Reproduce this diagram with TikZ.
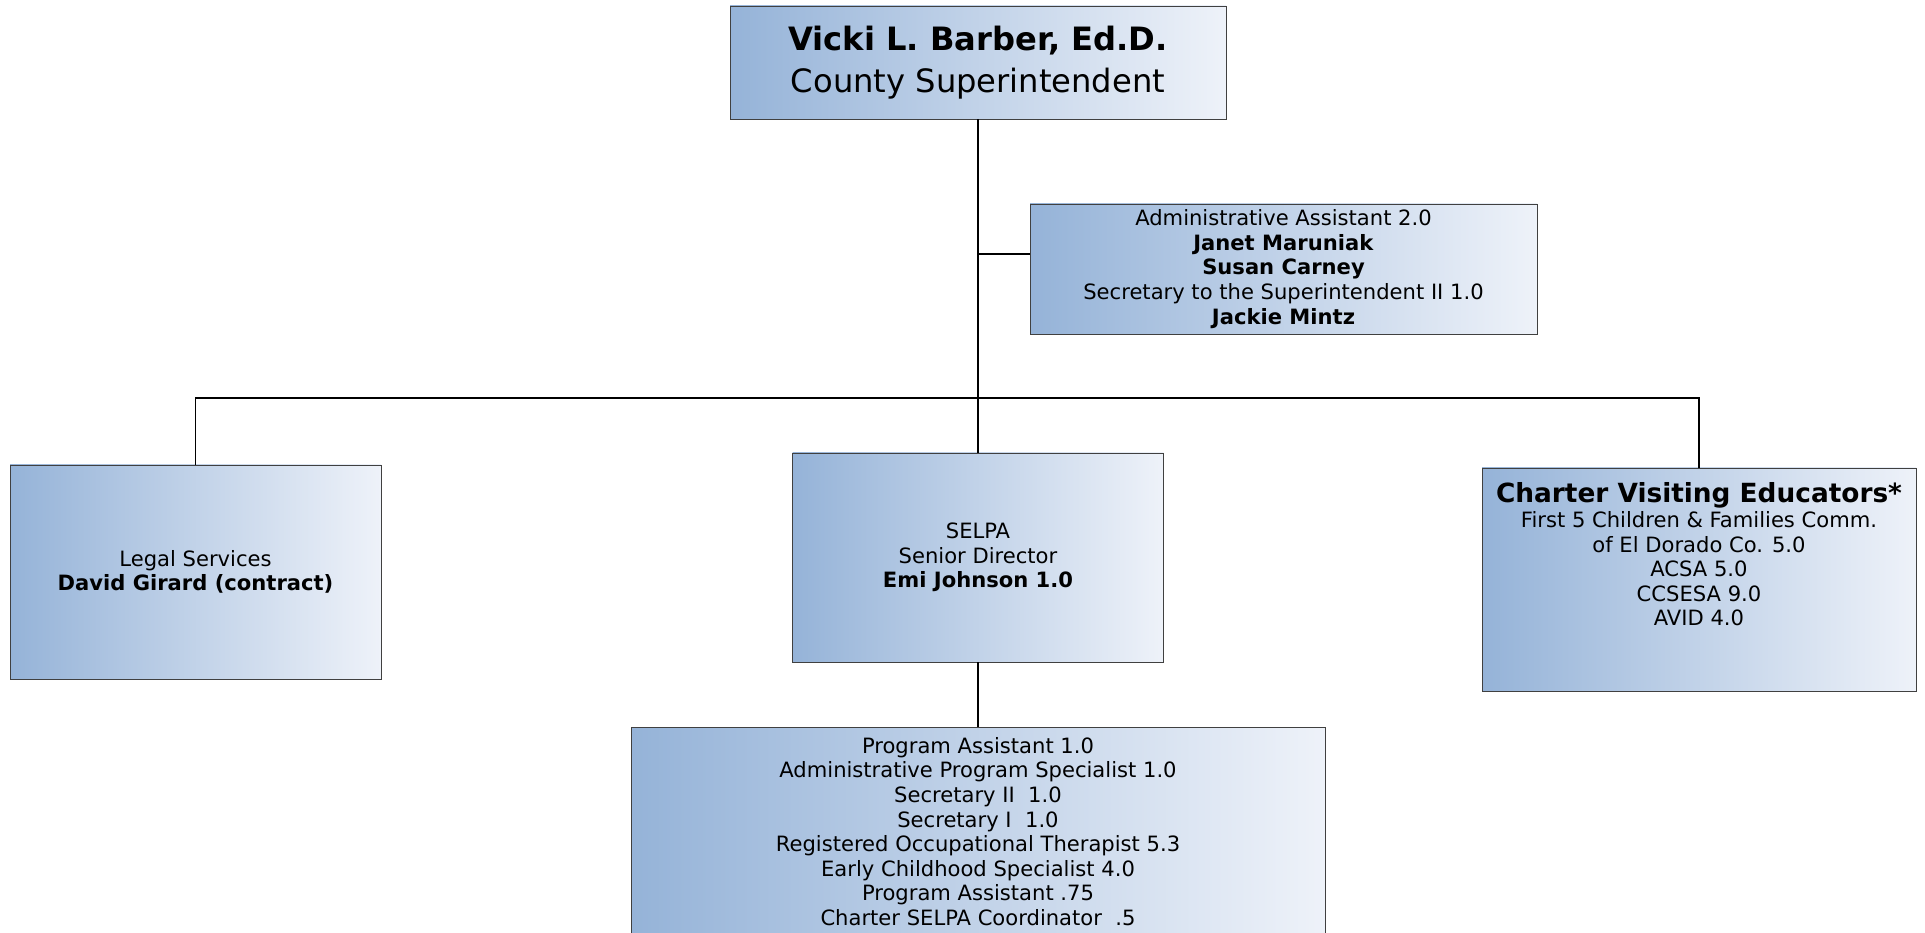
\documentclass[tikz,border=0pt]{standalone}
\usepackage{fontspec}
\setmainfont{DejaVu Sans}
\usepackage{xcolor}

\definecolor{boxleft}{HTML}{95B3D8}
\definecolor{boxright}{HTML}{EEF2F9}

\tikzset{
    unit/.style={draw=black!75, left color=boxleft, right color=boxright, align=center, inner sep=0pt},
    link/.style={line width=0.8pt},
    staff/.style={font=\fontsize{12}{14}\selectfont, align=center}
}

\begin{document}
\begin{tikzpicture}

    \useasboundingbox (0,0) rectangle (38.5,18.64);
    \clip (0,0) rectangle (38.5,18.64);

    % Superintendent at the top
    \node[unit, minimum width=9.92cm, minimum height=2.26cm, font=\fontsize{18.3}{23.5}\selectfont] (super) at (19.56,17.39) {\textbf{Vicki L. Barber,\ Ed.D.}\\County Superintendent};

    % Office staff on the side
    \node[unit, staff, minimum width=10.14cm, minimum height=2.6cm] (office) at (25.67,13.26) {Administrative Assistant 2.0\\\textbf{Janet Maruniak}\\\textbf{Susan Carney}\\Secretary to the Superintendent II 1.0\\\textbf{Jackie Mintz}};

    % Three boxes in a row
    \node[unit, staff, minimum width=7.42cm, minimum height=4.28cm] (legal) at (3.91,7.2) {Legal Services\\\textbf{David Girard (contract)}};
    \node[unit, staff, minimum width=7.42cm, minimum height=4.18cm] (selpa) at (19.56,7.49) {SELPA\\Senior Director\\\textbf{Emi Johnson 1.0}};
    \node[unit, minimum width=8.68cm, minimum height=4.46cm] (charter) at (33.98,7.05) {};
    \node[staff, anchor=north] (charterList) at ([yshift=-0.18cm]charter.north) {{\fontsize{15}{16}\selectfont\textbf{Charter Visiting Educators*}}\\First 5 Children \& Families Comm.\\of El Dorado Co. 5.0\\ACSA 5.0\\CCSESA 9.0\\AVID 4.0};

    % SELPA staff, runs off the page
    \node[unit, minimum width=13.88cm, minimum height=4.8cm, anchor=north] (selpaStaff) at (19.56,4.1) {};
    \node[staff, anchor=north] (selpaList) at ([yshift=-0.08cm]selpaStaff.north) {Program Assistant 1.0\\Administrative Program Specialist 1.0\\Secretary II\ \ 1.0\\Secretary I\ \ 1.0\\Registered Occupational Therapist 5.3\\Early Childhood Specialist 4.0\\Program Assistant .75\\Charter SELPA Coordinator\ \ .5};

    % Lines
    \coordinate (bar) at (19.56,10.68);
    \coordinate (officeJoin) at (19.56,13.56);
    \draw[link] (super.south) -- (bar);
    \draw[link] (officeJoin) -- (officeJoin -| office.west);
    \draw[link] (legal.north) |- (bar) -| (charter.north);
    \draw[link] (bar) -- (selpa.north);
    \draw[link] (selpa.south) -- (selpaStaff.north);

\end{tikzpicture}
\end{document}
